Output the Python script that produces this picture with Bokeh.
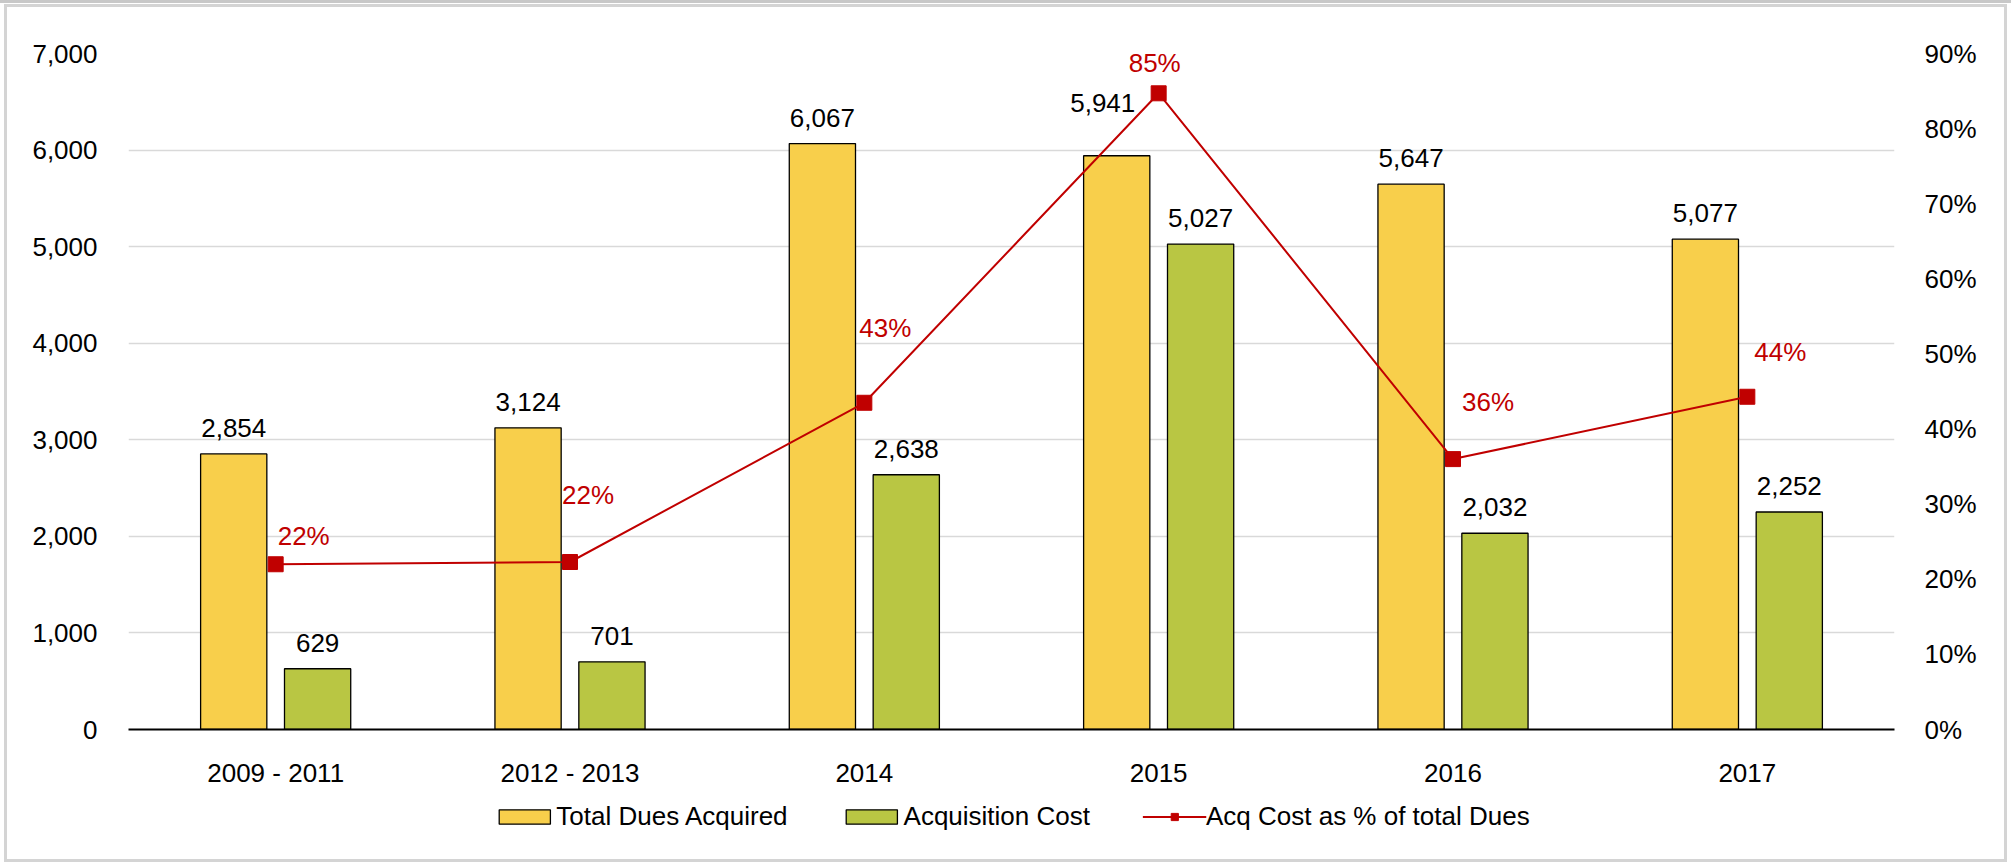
from bokeh.plotting import figure
from bokeh.layouts import column
from bokeh.models import (ColumnDataSource, FactorRange, Range1d, LinearAxis, FixedTicker,
                          NumeralTickFormatter, Legend, LegendItem)
from bokeh.transform import dodge
from bokeh.core.properties import value
from bokeh.embed import file_html
from bokeh.resources import INLINE

# ---- data ----
categories = ["2009 - 2011", "2012 - 2013", "2014", "2015", "2016", "2017"]
total_dues = [2854, 3124, 6067, 5941, 5647, 5077]
acq_cost = [629, 701, 2638, 5027, 2032, 2252]
acq_pct = [0.220, 0.223, 0.435, 0.847, 0.360, 0.443]
pct_labels = ["22%", "22%", "43%", "85%", "36%", "44%"]
left_ticks = [0, 1000, 2000, 3000, 4000, 5000, 6000, 7000]
right_ticks = [0.0, 0.1, 0.2, 0.3, 0.4, 0.5, 0.6, 0.7, 0.8, 0.9]
series_names = ["Total Dues Acquired", "Acquisition Cost", "Acq Cost as % of total Dues"]

# ---- styles ----
FONT = "Liberation Sans"
YELLOW = "#F8CF4B"
GREEN = "#B9C643"
RED = "#C00000"
GRID = "#D9D9D9"
FS = "26px"
W = 2011
# label offsets in screen pixels (style, not data)
tot_dx = [0, 0, 0, -14, 0, 0]
tot_dy = [-26, -26, -26, -53, -26, -26]
pct_dx = [2, -8, -5, -30, 9, 7]
pct_dy = [-28, -67, -75, -30, -57, -45]

src = ColumnDataSource(dict(
    cat=categories,
    total=total_dues,
    cost=acq_cost,
    pct=acq_pct,
    total_lbl=[f"{v:,}" for v in total_dues],
    cost_lbl=[f"{v:,}" for v in acq_cost],
    pct_lbl=pct_labels,
    tot_dx=tot_dx, tot_dy=tot_dy,
    pct_dx=pct_dx, pct_dy=pct_dy,
))

p = figure(x_range=FactorRange(*categories), y_range=Range1d(0, 7000),
           width=W, height=790, output_backend="svg", toolbar_location=None,
           min_border_left=128, min_border_right=W - 1894, min_border_top=53,
           min_border_bottom=59)
p.extra_y_ranges = {"pct": Range1d(0, 0.9)}
p.outline_line_color = None
p.background_fill_color = "white"
p.border_fill_color = None

OFF = 0.1425
BW = 0.225
bar_tot = dict(fill_color=YELLOW, line_color="black", line_width=1.3)
bar_cost = dict(fill_color=GREEN, line_color="black", line_width=1.3)
r_tot = p.vbar(x=dodge("cat", -OFF, range=p.x_range), top="total", width=BW, source=src,
               **bar_tot)
r_cost = p.vbar(x=dodge("cat", OFF, range=p.x_range), top="cost", width=BW, source=src,
                **bar_cost)

r_line = p.line(x="cat", y="pct", source=src, y_range_name="pct",
                line_color=RED, line_width=2)
r_mark = p.scatter(x="cat", y="pct", source=src, y_range_name="pct", marker="square",
                   size=15, fill_color=RED, line_color=RED)

p.text(x=dodge("cat", -OFF, range=p.x_range), y="total", text="total_lbl", source=src,
       x_offset="tot_dx", y_offset="tot_dy", text_align="center", text_baseline="middle",
       text_font=value(FONT), text_font_size=FS, text_color="black")
p.text(x=dodge("cat", OFF, range=p.x_range), y="cost", text="cost_lbl", source=src,
       y_offset=-26, text_align="center", text_baseline="middle",
       text_font=value(FONT), text_font_size=FS, text_color="black")
p.text(x="cat", y="pct", text="pct_lbl", source=src, y_range_name="pct",
       x_offset="pct_dx", y_offset="pct_dy", text_align="left", text_baseline="middle",
       text_font=value(FONT), text_font_size=FS, text_color=RED)

# axes
yax = p.yaxis[0]
yax.ticker = FixedTicker(ticks=left_ticks)
yax.formatter = NumeralTickFormatter(format="0,0")
xax = p.xaxis[0]
for ax in (yax, xax):
    ax.major_label_text_font = FONT
    ax.major_label_text_font_size = FS
    ax.major_label_text_color = "black"
    ax.major_tick_line_color = None
    ax.minor_tick_line_color = None
yax.axis_line_color = None
yax.major_label_standoff = 25
xax.axis_line_color = "black"
xax.axis_line_width = 2
xax.major_label_standoff = 22

rax = LinearAxis(y_range_name="pct", ticker=FixedTicker(ticks=right_ticks),
                 formatter=NumeralTickFormatter(format="0%"))
rax.major_label_text_font = FONT
rax.major_label_text_font_size = FS
rax.major_label_text_color = "black"
rax.major_tick_line_color = None
rax.minor_tick_line_color = None
rax.axis_line_color = None
rax.major_label_standoff = 24
p.add_layout(rax, "right")

p.xgrid.grid_line_color = None
p.ygrid.grid_line_color = GRID
p.ygrid.grid_line_width = 1.5

# ---- legend strip (same series styles; keys have no visible data) ----
lp = figure(width=W, height=76, x_range=Range1d(0, 1), y_range=Range1d(0, 1),
            output_backend="svg", toolbar_location=None, x_axis_type=None, y_axis_type=None,
            min_border_left=0, min_border_right=0, min_border_top=0, min_border_bottom=24)
lp.grid.visible = False
lp.outline_line_color = None
lp.border_fill_color = None
lp.background_fill_color = None
key_src = ColumnDataSource(dict(x=[-100.0], y=[float("nan")]))
l_tot = lp.vbar(x="x", top="y", width=0.1, source=key_src, **bar_tot)
l_cost = lp.vbar(x="x", top="y", width=0.1, source=key_src, **bar_cost)
l_line = lp.line(x="x", y="y", source=key_src, line_color=RED, line_width=2)
l_mark = lp.scatter(x="x", y="y", source=key_src, marker="square", size=15,
                    fill_color=RED, line_color=RED)
legend = Legend(items=[
    LegendItem(label=series_names[0], renderers=[l_tot]),
    LegendItem(label=series_names[1], renderers=[l_cost]),
    LegendItem(label=series_names[2], renderers=[l_line, l_mark]),
], orientation="horizontal", location="center", glyph_width=64, glyph_height=18,
    label_standoff=0, spacing=52, padding=0, margin=0,
    label_text_font=FONT, label_text_font_size=FS, label_text_color="black",
    border_line_color=None, background_fill_alpha=0)
lp.add_layout(legend, "center")

layout = column(p, lp, spacing=0)
layout.styles = {"outline": "3px solid #D4D4D4", "outline-offset": "-7px",
                 "box-shadow": "inset 0 3px 0 0 #C8C8C8"}

open("out.html", "w").write(file_html(layout, INLINE))
